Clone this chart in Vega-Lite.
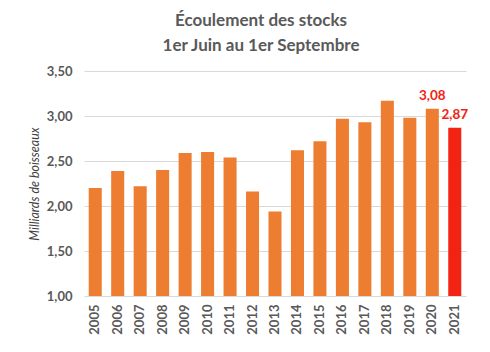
{
  "$schema": "https://vega.github.io/schema/vega-lite/v6.json",
  "width": 382,
  "height": 225,
  "padding": {"left": 28, "top": 12, "right": 22, "bottom": 10},
  "background": "white",
  "config": {
    "locale": {"number": {"decimal": ",", "thousands": " ", "grouping": [3], "currency": ["", " €"]}},
    "view": {"stroke": null},
    "font": "Lato"
  },
  "title": {
    "text": ["Écoulement des stocks", "1er Juin au 1er Septembre"],
    "fontSize": 17,
    "fontWeight": "bold",
    "color": "#595959",
    "lineHeight": 25,
    "anchor": "middle",
    "dx": -14,
    "offset": 10
  },
  "data": {
    "values": [
      {"year": "2005", "value": 2.20},
      {"year": "2006", "value": 2.39},
      {"year": "2007", "value": 2.22},
      {"year": "2008", "value": 2.40},
      {"year": "2009", "value": 2.59},
      {"year": "2010", "value": 2.60},
      {"year": "2011", "value": 2.54},
      {"year": "2012", "value": 2.16},
      {"year": "2013", "value": 1.94},
      {"year": "2014", "value": 2.62},
      {"year": "2015", "value": 2.72},
      {"year": "2016", "value": 2.97},
      {"year": "2017", "value": 2.93},
      {"year": "2018", "value": 3.17},
      {"year": "2019", "value": 2.98},
      {"year": "2020", "value": 3.08},
      {"year": "2021", "value": 2.87}
    ]
  },
  "encoding": {
    "x": {
      "field": "year",
      "type": "ordinal",
      "scale": {"paddingInner": 0.42, "paddingOuter": 0.21},
      "axis": {
        "title": null,
        "labelAngle": -90,
        "labelFontSize": 13,
        "labelFontWeight": "bold",
        "labelColor": "#595959",
        "labelPadding": 8,
        "ticks": false,
        "domain": false
      }
    },
    "y": {
      "field": "value",
      "type": "quantitative",
      "scale": {"domain": [1, 3.5], "zero": false, "clamp": true},
      "axis": {
        "title": "Milliards de boisseaux",
        "titleFontStyle": "italic",
        "titleFontWeight": "normal",
        "titleFontSize": 12.5,
        "titleColor": "#404040",
        "titlePadding": 5,
        "values": [1, 1.5, 2, 2.5, 3, 3.5],
        "format": ".2f",
        "labelFontSize": 13,
        "labelFontWeight": "bold",
        "labelColor": "#595959",
        "labelPadding": 12,
        "ticks": false,
        "domain": false,
        "gridColor": "#D9D9D9",
        "gridWidth": 1
      }
    }
  },
  "layer": [
    {
      "mark": {"type": "bar"},
      "encoding": {
        "y2": {"datum": 1},
        "color": {
          "condition": {"test": "datum.year == '2021'", "value": "#F32314"},
          "value": "#ED7D31"
        }
      }
    },
    {
      "transform": [{"filter": "datum.year == '2020' || datum.year == '2021'"}],
      "mark": {"type": "text", "baseline": "bottom", "dy": -6, "fontSize": 13.5, "fontWeight": "bold", "color": "#F32314"},
      "encoding": {
        "text": {"field": "value", "type": "quantitative", "format": ".2f"}
      }
    }
  ]
}
